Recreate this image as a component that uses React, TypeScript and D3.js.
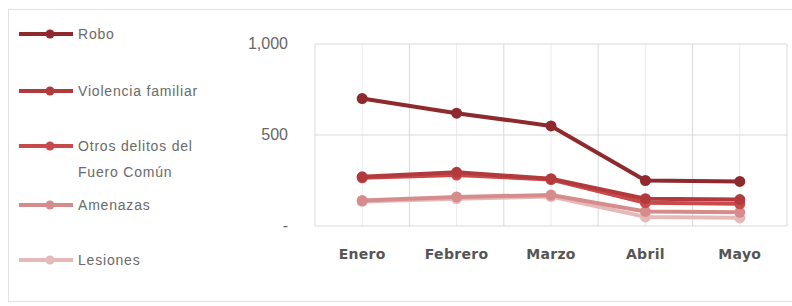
import * as d3 from "d3";
import { useEffect, useRef } from "react";

const months = ["Enero", "Febrero", "Marzo", "Abril", "Mayo"];
const seriesNames = ["Robo", "Violencia familiar", "Otros delitos del Fuero Común", "Amenazas", "Lesiones"];
const robo = [700, 620, 550, 250, 245];
const violencia = [270, 295, 260, 150, 145];
const otros = [265, 280, 255, 128, 122];
const amenazas = [140, 160, 170, 80, 75];
const lesiones = [135, 150, 162, 50, 45];
const yTicks = [0, 500, 1000];
const colors = ["#8e2a2e", "#b33a3c", "#c94a4a", "#d68c8c", "#e6b9b9"];

export default function App() {
  const svgRef = useRef<SVGSVGElement>(null);

  const width = 792;
  const height = 306;
  const plot = { left: 315, right: 787, top: 44, bottom: 226 };

  useEffect(() => {
    const svg = d3.select(svgRef.current);
    svg.selectAll("*").remove();

    const series = [robo, violencia, otros, amenazas, lesiones];

    const x = d3.scaleBand().domain(months).range([plot.left, plot.right]);
    const y = d3.scaleLinear().domain([0, 1000]).range([plot.bottom, plot.top]);
    const cx = (m: string) => (x(m) as number) + x.bandwidth() / 2;

    // outer frame
    svg.append("rect")
      .attr("x", 8.5).attr("y", 9.5)
      .attr("width", 800).attr("height", 292)
      .attr("fill", "#fff")
      .attr("stroke", "#e2e2e2");

    // grid
    const g = svg.append("g");
    const vlines: number[] = [];
    months.forEach((m) => {
      vlines.push(x(m) as number);
      vlines.push(cx(m));
    });
    vlines.push(plot.right);
    g.selectAll(".vgrid")
      .data(vlines)
      .enter()
      .append("line")
      .attr("x1", (d) => d).attr("x2", (d) => d)
      .attr("y1", plot.top).attr("y2", plot.bottom)
      .attr("stroke", (d, i) => (i % 2 === 0 ? "#d9d9d9" : "#ececec"));

    g.selectAll(".hgrid")
      .data(yTicks)
      .enter()
      .append("line")
      .attr("x1", plot.left).attr("x2", plot.right)
      .attr("y1", (d) => y(d)).attr("y2", (d) => y(d))
      .attr("stroke", "#d9d9d9");

    // y labels
    const fmt = (d: number) => (d === 0 ? "-" : d3.format(",")(d));
    svg.selectAll(".ylab")
      .data(yTicks)
      .enter()
      .append("text")
      .attr("x", 288)
      .attr("y", (d) => y(d) + 5)
      .attr("text-anchor", "end")
      .attr("font-family", "Liberation Sans, Arial, sans-serif")
      .attr("font-size", 16)
      .attr("fill", "#666")
      .text(fmt);

    // x labels
    svg.selectAll(".xlab")
      .data(months)
      .enter()
      .append("text")
      .attr("x", (d) => cx(d))
      .attr("y", 259)
      .attr("text-anchor", "middle")
      .attr("font-family", "DejaVu Sans, sans-serif")
      .attr("font-weight", "bold")
      .attr("font-size", 14)
      .attr("letter-spacing", 0.3)
      .attr("fill", "#555")
      .text((d) => d);

    // lines, drawn from last to first so Robo sits on top
    const line = d3.line<number>()
      .x((d, i) => cx(months[i]))
      .y((d) => y(d));

    for (let s = series.length - 1; s >= 0; s--) {
      const data = series[s];
      svg.append("path")
        .datum(data)
        .attr("d", line)
        .attr("fill", "none")
        .attr("stroke", colors[s])
        .attr("stroke-width", 4)
        .attr("stroke-linejoin", "round");
      svg.selectAll(`.dot-${s}`)
        .data(data)
        .enter()
        .append("circle")
        .attr("cx", (d, i) => cx(months[i]))
        .attr("cy", (d) => y(d))
        .attr("r", 5.5)
        .attr("fill", colors[s]);
    }

    // legend
    const legendY = [34, 91, 146, 205, 260];
    const legend = svg.append("g");
    seriesNames.forEach((name, i) => {
      const ly = legendY[i];
      legend.append("line")
        .attr("x1", 19).attr("x2", 73)
        .attr("y1", ly).attr("y2", ly)
        .attr("stroke", colors[i])
        .attr("stroke-width", 4);
      legend.append("circle")
        .attr("cx", 50).attr("cy", ly)
        .attr("r", 4.5)
        .attr("fill", colors[i]);
      const lines = name === "Otros delitos del Fuero Común" ? ["Otros delitos del", "Fuero Común"] : [name];
      lines.forEach((t, j) => {
        legend.append("text")
          .attr("x", 78)
          .attr("y", ly + 5 + j * 26)
          .attr("font-family", "Liberation Sans, Arial, sans-serif")
          .attr("font-size", 14)
          .attr("letter-spacing", 0.8)
          .attr("fill", "#6a6a6a")
          .text(t);
      });
    });
  }, []);

  return (
    <svg
      ref={svgRef}
      width={width}
      height={height}
      style={{ position: "absolute", left: 0, top: 0, background: "#fff" }}
    ></svg>
  );
}
